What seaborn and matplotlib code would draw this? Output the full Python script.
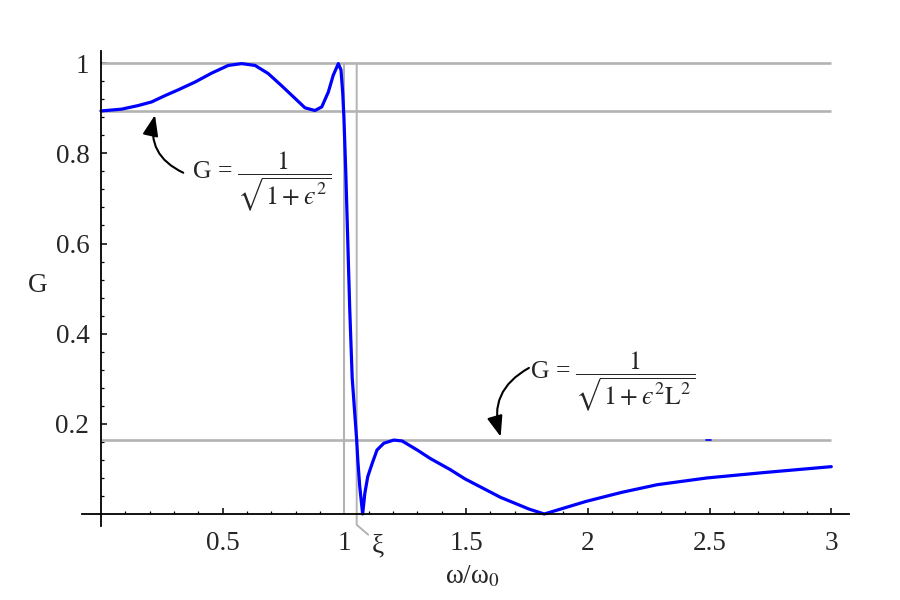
import numpy as np
import pandas as pd
import matplotlib
matplotlib.use("Agg")
import matplotlib.pyplot as plt
import seaborn as sns

# gain curve (omega/omega0, G)
omega = [0.0, 0.085, 0.153, 0.208, 0.263, 0.318, 0.386, 0.455, 0.523, 0.578,
         0.633, 0.687, 0.742, 0.797, 0.838, 0.879, 0.907, 0.934, 0.954, 0.975,
         0.986, 0.993, 0.998, 1.006, 1.014, 1.022, 1.032, 1.042, 1.0505, 1.055,
         1.063, 1.075, 1.084, 1.096, 1.114, 1.134, 1.162, 1.203, 1.237, 1.299,
         1.353, 1.433, 1.495, 1.641, 1.758, 1.821, 1.993, 2.139, 2.285, 2.490,
         2.725, 3.0]
gain = [0.894, 0.898, 0.906, 0.914, 0.928, 0.941, 0.958, 0.978, 0.995, 0.999,
        0.995, 0.977, 0.950, 0.922, 0.901, 0.895, 0.903, 0.936, 0.973, 0.999,
        0.985, 0.935, 0.880, 0.753, 0.603, 0.453, 0.302, 0.227, 0.164, 0.120,
        0.061, 0.0, 0.046, 0.083, 0.112, 0.142, 0.157, 0.164, 0.162, 0.142,
        0.123, 0.099, 0.078, 0.037, 0.011, 0.0, 0.028, 0.048, 0.065, 0.080,
        0.092, 0.105]

# tiny stray blue dash sitting on the stopband line
glitch_x = [2.485, 2.505]
glitch_g = [0.164, 0.164]

g_pass = 0.894
g_stop = 0.164
xi = 1.0505

x_ticks = [0.5, 1, 1.5, 2, 2.5, 3]
x_tick_labels = ["0.5", "1", "1.5", "2", "2.5", "3"]
y_ticks = [0.2, 0.4, 0.6, 0.8, 1.0]
y_tick_labels = ["0.2", "0.4", "0.6", "0.8", "1"]

df = pd.DataFrame({"w": omega, "G": gain})

sns.set_style("white")
plt.rcParams["font.family"] = ["Liberation Serif", "DejaVu Serif"]
plt.rcParams["mathtext.fontset"] = "stix"

grey = "#b3b3b3"

fig = plt.figure(figsize=(9, 6), dpi=100)
ax = fig.add_axes([0.0908, 0.1238, 0.8526, 0.7912])

ax.hlines([1.0, g_pass, g_stop], 0, 3, color=grey, lw=1.9, zorder=1)
ax.vlines(1.0, 0, 1.0, color=grey, lw=1.5, zorder=1)
ax.plot([xi, xi, 1.098], [1.0, -0.024, -0.046], color=grey, lw=1.4,
        clip_on=False, zorder=1)

sns.lineplot(data=df, x="w", y="G", color="blue", lw=2.3, estimator=None,
             sort=False, ax=ax, zorder=2)
ax.plot(glitch_x, glitch_g, color="blue", lw=1.2, zorder=2)

ax.set_xlim(-0.079, 3.073)
ax.set_ylim(-0.026, 1.027)

for s in ["top", "right"]:
    ax.spines[s].set_visible(False)
ax.spines["left"].set_position(("data", 0))
ax.spines["bottom"].set_position(("data", 0))
for s in ["left", "bottom"]:
    ax.spines[s].set_color("black")
    ax.spines[s].set_linewidth(1.3)
    ax.spines[s].set_zorder(3)

ax.set_xticks(x_ticks, x_tick_labels)
ax.set_yticks(y_ticks, y_tick_labels)
ax.set_xticks([round(0.1 * i, 1) for i in range(1, 31) if i % 5], minor=True)
ax.set_yticks([round(0.04 * i, 2) for i in range(1, 26) if i % 5], minor=True)
ax.tick_params(which="major", direction="in", length=4.3, width=1.1,
               color="black", labelsize=19.5, bottom=True, left=True)
ax.tick_params(which="minor", direction="in", length=2.5, width=0.9,
               color="black", bottom=True, left=True)
ax.tick_params(axis="x", which="major", pad=12)
ax.tick_params(axis="y", which="major", pad=8.4)

ax.set_xlabel("ω/ω$_0$", fontsize=19.5)
ax.xaxis.set_label_coords(0.509, -0.108)
ax.xaxis.label.set_va("center")
ax.set_ylabel("G", fontsize=19.5, rotation=0)
ax.yaxis.set_label_coords(-0.057, 0.505)
ax.yaxis.label.set_va("center")
ax.yaxis.label.set_ha("center")

ax.text(1.138, -0.0843, "ξ", fontsize=19.5, ha="center", va="baseline",
        clip_on=False)

ax.text(0.3726, 0.7355, "G = $\\dfrac{1}{\\sqrt{1+\u03f5^2}}$", fontsize=18.5,
        ha="left", va="center")
ax.text(1.7625, 0.293, "G = $\\dfrac{1}{\\sqrt{1+\u03f5^2\\mathrm{L}^2}}$",
        fontsize=18.5, ha="left", va="center")

arrow = dict(arrowstyle="-|>,head_length=0.45,head_width=0.17", color="black",
             lw=1.5, mutation_scale=28, shrinkA=0, shrinkB=0)
ax.annotate("", xy=(0.222, 0.885), xytext=(0.338, 0.757),
            arrowprops=dict(arrow, connectionstyle="arc3,rad=-0.4"))
ax.annotate("", xy=(1.642, 0.1715), xytext=(1.758, 0.324),
            arrowprops=dict(arrow, connectionstyle="arc3,rad=0.4"))

fig.savefig("out.png", dpi=100)
